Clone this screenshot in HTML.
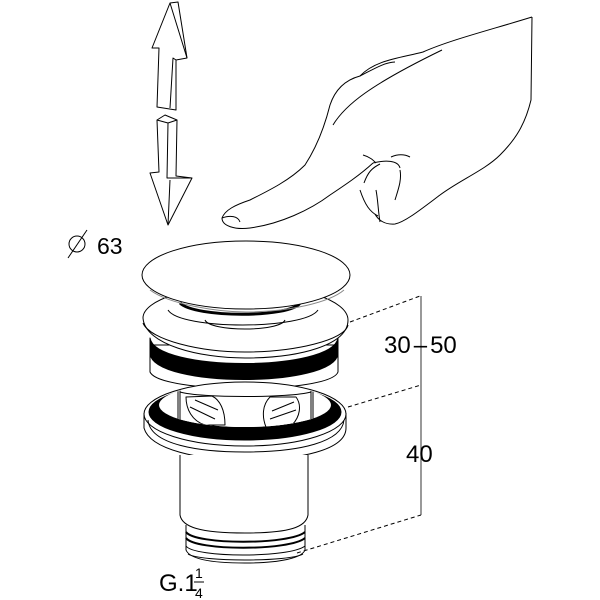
<!DOCTYPE html>
<html><head><meta charset="utf-8"><style>
html,body{margin:0;padding:0;background:#fff;}
svg{display:block;}
text{font-family:"Liberation Sans",sans-serif;fill:#000;}
</style></head><body>
<svg width="600" height="600" viewBox="0 0 600 600" xmlns="http://www.w3.org/2000/svg">
<defs><clipPath id="inner"><ellipse cx="245" cy="405" rx="86" ry="22"/></clipPath></defs>
<g fill="none" stroke="#000" stroke-width="1" stroke-linejoin="round">
<!-- up arrow -->
<path d="M170,3 L152,48 L159,48 L157,107 L176,110 L176,60 L187,58 L178,2 Z" fill="#fff"/>
<path d="M170,3 L187,58 M176,60 L173,58 L170,108"/>
<!-- down arrow -->
<path d="M157,120 L165,115 L177,120 L176,176 L192,178 L168,225 L150,173 L159,172 Z" fill="#fff"/>
<path d="M157,120 L168,123 L177,120 M168,123 L167,178 L192,178 M168,225 L170,180"/>
<!-- hand -->
<path d="M532,17 L531,100 C525,125 515,140 500,155 C485,170 460,180 440,195 C420,210 405,222 395,224 C385,225 378,220 375,214"/>
<path d="M532,17 C490,30 450,40 423,52 C400,58 375,60 360,76 C345,80 335,90 330,105 C325,125 318,145 305,165 C290,180 270,190 250,200 C235,205 225,210 222,218 C222,226 235,230 250,228 C280,224 310,210 330,195 C345,185 360,175 373,163"/>
<path d="M373,163 C385,160 398,160 400,168 M364,183 C368,172 372,168 380,164 M360,190 C365,205 370,212 378,216 M376,190 C378,200 378,210 380,222 M395,200 C398,190 402,180 400,170 M391,157 C398,154 404,154 410,157 M363,155 C370,157 373,160 376,163"/>
<path d="M360,76 C372,70 385,62 395,62 M333,125 C345,105 370,85 442,50 M222,218 C230,215 238,216 240,222"/>
<!-- collar cylinder -->
<path d="M150,345 L150,372 C160,394 330,394 338,372 L338,345 Z" fill="#fff"/>
<path d="M150,338 C155,372 333,372 338,338 L338,354 C333,388 155,388 150,354 Z" fill="#000"/>
<!-- lower disc -->
<path d="M143,318 C145,345 200,358 245,358 C300,358 348,345 348,320 C348,300 300,285 245,285 C190,285 143,300 143,318 Z" fill="#fff"/>
<path d="M143,323 C150,340 200,352 245,352 C295,352 345,340 348,325"/>
<path d="M180,303 C195,318 290,318 300,303" stroke-width="3"/>
<path d="M168,310 C180,330 305,330 318,310"/>
<path d="M205,320 C210,332 280,332 285,320"/>
<!-- cap -->
<ellipse cx="246" cy="275" rx="104" ry="34" fill="#fff"/>
<path d="M150,290 C170,305 220,312 246,312 C290,312 330,302 344,290" stroke="#888"/>
<!-- big flange -->
<path d="M144,413 L144,428 C150,450 200,460 245,460 C300,460 346,450 346,428 L346,413" fill="#fff"/>
<ellipse cx="245" cy="414" rx="101" ry="32" fill="#fff"/>
<ellipse cx="245" cy="412" rx="96" ry="28" fill="#000"/>
<ellipse cx="245" cy="405" rx="86" ry="22" fill="#fff" stroke="none"/>
<g clip-path="url(#inner)">
<rect x="178" y="370" width="135" height="70" fill="#fff"/>
<path d="M180,380 L180,428 M311,380 L311,428 M180,392 C200,398 290,398 311,392"/>
<path d="M186,397 C186,409 192,421 205,425 L225,425 C225,410 220,400 212,396 Z M270,397 C262,405 262,417 266,427 L292,425 C300,417 302,405 296,397 Z" fill="#fff"/>
<path d="M190,407 L215,419 M195,400 L218,410 M272,411 L294,402 M270,419 L296,410"/>
</g>
<path d="M148,420 C150,445 200,452 245,452 C300,452 342,442 344,420"/>
<!-- body -->
<path d="M180,455 L180,515 C182,527 200,533 245,533 C290,533 306,527 308,515 L308,455" fill="#fff"/>
<path d="M186,525 L186,550 C190,560 215,563 245,563 C280,563 302,558 305,550 L305,525"/>
<path d="M186,532 C195,545 290,545 305,532 M186,538 C195,551 290,551 305,538" stroke-width="2"/>
<path d="M186,546 C195,558 290,558 305,546 M188,554 C200,562 290,562 303,554"/>
<!-- dimension lines -->
<path d="M350,322 L420,296 M348,407 L421,385 M297,553 L421,515" stroke-dasharray="4,3"/>
<path d="M421,296 L421,515" stroke-width="0.8"/>
<!-- diameter symbol -->
<circle cx="77" cy="244" r="8"/>
<path d="M68,258 L87,230"/>
</g>
<text x="97" y="254" font-size="23">63</text>
<text x="384" y="353" font-size="24">30<tspan dx="3">–</tspan><tspan dx="3">50</tspan></text>
<text x="406" y="462" font-size="24">40</text>
<text x="159" y="591" font-size="24">G.1</text>
<text x="195" y="578" font-size="14">1</text>
<text x="195" y="598" font-size="14">4</text>
<path d="M194,582 L204,582" stroke="#000" stroke-width="1"/>
</svg>
</body></html>
